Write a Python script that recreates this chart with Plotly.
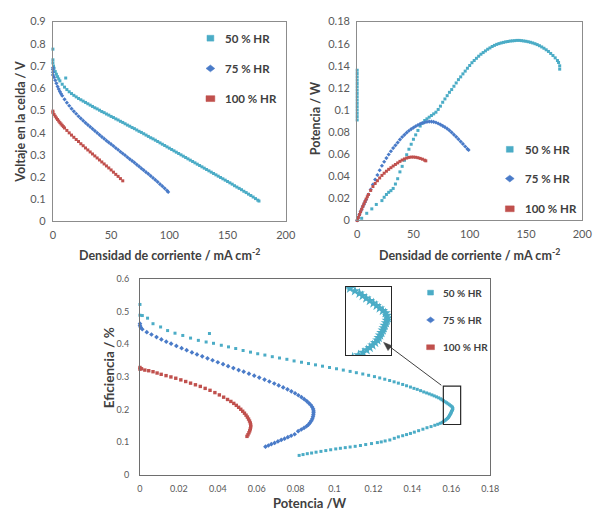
import plotly.graph_objects as go

# ---------------------------------------------------------------------------
# Data
# ---------------------------------------------------------------------------
# Voltage vs current density (mA cm-2)
cd_50_v = [0, 0, 0, 0.5, 1, 2, 3, 4, 5, 6, 8, 10, 11, 12,
           14, 16, 18, 20, 22, 24, 26, 28, 30, 32, 34, 36, 38, 40, 42, 44, 46, 48,
           50, 52, 54, 56, 58, 60, 62, 64, 66, 68, 70, 72, 74, 76, 78, 80, 82, 84,
           86, 88, 90, 92, 94, 96, 98, 100, 102, 104, 106, 108, 110, 112, 114, 116,
           118, 120, 122, 124, 126, 128, 130, 132, 134, 136, 138, 140, 142, 144,
           146, 148, 150, 152, 154, 156, 158, 160, 162, 164, 166, 168, 170, 172,
           174, 176, 177]
volt_50 = [0.776, 0.728, 0.714, 0.700, 0.690, 0.675, 0.663, 0.652, 0.642, 0.633, 0.618,
           0.605, 0.646, 0.594,
           0.584, 0.576, 0.568, 0.561, 0.554, 0.548, 0.542, 0.536, 0.530, 0.524, 0.518,
           0.512, 0.507, 0.501, 0.495, 0.490, 0.484, 0.479, 0.473, 0.468, 0.462, 0.457,
           0.451, 0.446, 0.440, 0.434, 0.429, 0.423, 0.418, 0.412, 0.406, 0.401, 0.395,
           0.389, 0.383, 0.377, 0.372, 0.366, 0.360, 0.354, 0.348, 0.342, 0.336, 0.330,
           0.324, 0.318, 0.312, 0.306, 0.300, 0.294, 0.288, 0.282, 0.276, 0.270, 0.264,
           0.258, 0.252, 0.246, 0.240, 0.234, 0.228, 0.222, 0.216, 0.210, 0.204, 0.198,
           0.192, 0.186, 0.180, 0.174, 0.168, 0.161, 0.155, 0.149, 0.143, 0.136, 0.130,
           0.123, 0.117, 0.110, 0.103, 0.096, 0.092]

cd_75_v = [0, 0, 0, 0, 1, 2, 3, 4, 5, 6, 7, 8,
           10, 12, 14, 16, 18, 20, 22, 24, 26, 28, 30, 32, 34, 36, 38, 40, 42, 44, 46,
           48, 50, 52, 54, 56, 58, 60, 62, 64, 66, 68, 70, 72, 74, 76, 78, 80, 82, 84,
           86, 88, 90, 92, 94, 96, 98, 99]
volt_75 = [0.692, 0.684, 0.672, 0.660, 0.650, 0.636, 0.622, 0.608, 0.596, 0.585, 0.575, 0.566,
           0.550, 0.535, 0.521, 0.508, 0.496, 0.485, 0.474, 0.464, 0.454, 0.444, 0.435,
           0.426, 0.417, 0.408, 0.399, 0.390, 0.381, 0.373, 0.364, 0.356, 0.348, 0.340,
           0.331, 0.323, 0.314, 0.306, 0.298, 0.289, 0.281, 0.273, 0.265, 0.256, 0.248,
           0.239, 0.231, 0.222, 0.214, 0.205, 0.196, 0.187, 0.178, 0.168, 0.159, 0.149,
           0.139, 0.133]

cd_100_v = [0, 0, 1, 2, 3, 4, 5, 6, 7, 8, 9, 10,
            12, 14, 16, 18, 20, 22, 24, 26, 28, 30, 32, 34, 36, 38, 40, 42, 44, 46, 48,
            50, 52, 54, 56, 58, 60]
volt_100 = [0.497, 0.490, 0.482, 0.474, 0.466, 0.459, 0.452, 0.445, 0.439, 0.433, 0.427, 0.421,
            0.410, 0.399, 0.389, 0.379, 0.369, 0.360, 0.350, 0.341, 0.331, 0.322, 0.313,
            0.304, 0.295, 0.286, 0.277, 0.268, 0.259, 0.250, 0.241, 0.232, 0.222, 0.212,
            0.203, 0.193, 0.183]

# Power (W) vs current density (mA cm-2)
cd_50_p = [0, 0, 0, 0, 0, 0, 0, 0, 0, 0, 0, 0, 0, 0, 0, 0,
           0.5, 4, 8.5, 13, 17,
           22, 24, 26, 28, 30, 32, 34, 36, 38, 40, 42, 44, 46, 48, 50, 52, 54, 56, 58,
           60, 62, 64, 66, 68, 70, 72, 74, 76, 78, 80, 82, 84, 86, 88, 90, 92, 94, 96,
           98, 100, 102, 104, 106, 108, 110, 112, 114, 116, 118, 120, 122, 124, 126,
           128, 130, 132, 134, 136, 138, 140, 142, 144, 146, 148, 150, 152, 154, 156,
           158, 160, 162, 164, 166, 168, 170, 172, 174, 176, 178, 179, 180, 180]
pow_50 = [0.136, 0.133, 0.130, 0.127, 0.124, 0.121, 0.118, 0.115, 0.112, 0.109, 0.106,
          0.103, 0.100, 0.097, 0.094, 0.091,
          0.0005, 0.002, 0.0065, 0.0105, 0.0145,
          0.018, 0.021, 0.0235, 0.0255, 0.027, 0.029, 0.033, 0.0378, 0.044, 0.049, 0.0545,
          0.0595, 0.0645, 0.069, 0.0735, 0.0775, 0.0815, 0.0855, 0.088, 0.0905, 0.092,
          0.0935, 0.095, 0.0965, 0.098, 0.1005, 0.1035, 0.107, 0.110, 0.113, 0.116,
          0.1185, 0.1215, 0.1245, 0.1275, 0.130, 0.1327, 0.1352, 0.1378, 0.1403, 0.1428,
          0.1448, 0.1468, 0.1487, 0.1505, 0.152, 0.1535, 0.155, 0.1562, 0.1575, 0.1585,
          0.1594, 0.1601, 0.1607, 0.1612, 0.1617, 0.162, 0.1624, 0.1626, 0.1628, 0.163,
          0.163, 0.1628, 0.1625, 0.1622, 0.1618, 0.1613, 0.1607, 0.160, 0.1592, 0.1582,
          0.1571, 0.1559, 0.1545, 0.153, 0.1512, 0.1493, 0.1472, 0.1448, 0.143, 0.140, 0.137]

cd_75_p = [0, 1, 2, 3, 4, 5, 6, 7, 8,
           10, 12, 14, 16, 18, 20, 22, 24, 26, 28, 30, 32, 34, 36, 38, 40, 42, 44, 46,
           48, 50, 52, 54, 56, 58, 60, 62, 64, 66, 68, 70, 72, 74, 76, 78, 80, 82, 84,
           86, 88, 90, 92, 94, 96, 98, 99]
pow_75 = [0.0, 0.003, 0.0055, 0.008, 0.0102, 0.0125, 0.0147, 0.0168, 0.019,
          0.0235, 0.028, 0.0325, 0.037, 0.0412, 0.0455, 0.0495, 0.0532, 0.0565, 0.0597,
          0.0627, 0.0655, 0.068, 0.0705, 0.0732, 0.0756, 0.0775, 0.0795, 0.0812, 0.0827,
          0.084, 0.0853, 0.0864, 0.0874, 0.0882, 0.0888, 0.0893, 0.0895, 0.0895, 0.0892,
          0.0887, 0.0878, 0.0868, 0.0857, 0.0845, 0.0831, 0.0815, 0.0797, 0.0777, 0.0757,
          0.0736, 0.0714, 0.0693, 0.067, 0.0648, 0.0638]

cd_100_p = [0, 1, 2, 3, 4, 5, 6, 7, 8, 9, 10,
            12, 14, 16, 18, 20, 22, 24, 26, 28, 30, 32, 34, 36, 38, 40, 42, 44, 46, 48,
            50, 52, 54, 56, 58, 60, 61]
pow_100 = [0.0, 0.0027, 0.0053, 0.0078, 0.0102, 0.0127, 0.015, 0.0172, 0.0194, 0.0215, 0.0235,
           0.0272, 0.0307, 0.0335, 0.036, 0.0385, 0.0408, 0.0428, 0.0446, 0.0463, 0.0478,
           0.0493, 0.0507, 0.0521, 0.0535, 0.0547, 0.0557, 0.0565, 0.0571, 0.0574, 0.0574,
           0.0572, 0.0568, 0.0562, 0.0555, 0.0546, 0.054]

# Efficiency (fraction) vs power (W)
pe_50 = [0.0, 0.0, 0.0012, 0.0039, 0.0067, 0.0106, 0.0142, 0.0180, 0.0220, 0.0260, 0.0300,
         0.0357, 0.0340, 0.0378, 0.0418, 0.0455, 0.0492, 0.0530, 0.0568, 0.0605, 0.0642,
         0.0680, 0.0717, 0.0755, 0.0792, 0.0830, 0.0866, 0.0902, 0.0938, 0.0974, 0.1010,
         0.1045, 0.1080, 0.1112, 0.1145, 0.1175, 0.1205, 0.1232, 0.1258, 0.1283, 0.1306,
         0.1328, 0.1350, 0.1370, 0.1390, 0.1408, 0.1425, 0.1442, 0.1458, 0.1473, 0.1487,
         0.1500, 0.1512, 0.1524, 0.1535, 0.1545, 0.1552, 0.1560, 0.1568, 0.1576, 0.1583,
         0.1590, 0.1597, 0.1603, 0.1606, 0.1608, 0.1606, 0.1604, 0.1601, 0.1599, 0.1597,
         0.1594, 0.1591, 0.1588, 0.1585, 0.1580, 0.1574, 0.1568, 0.1561, 0.1553, 0.1543,
         0.1530, 0.1515, 0.1496, 0.1475, 0.1454, 0.1432, 0.1410, 0.1390, 0.1370, 0.1350,
         0.1328, 0.1307, 0.1284, 0.1260, 0.1240, 0.1220, 0.1190, 0.1160, 0.1133, 0.1106,
         0.1080, 0.1055, 0.1030, 0.1006, 0.0980, 0.0955, 0.0930, 0.0905, 0.0882, 0.0860,
         0.0838, 0.0818]
eff_50 = [0.522, 0.489, 0.488, 0.480, 0.463, 0.453, 0.442, 0.434, 0.427, 0.419, 0.412,
          0.433, 0.407, 0.403, 0.397, 0.392, 0.387, 0.381, 0.376, 0.371, 0.367,
          0.362, 0.358, 0.354, 0.349, 0.345, 0.341, 0.337, 0.333, 0.329, 0.325,
          0.321, 0.317, 0.313, 0.309, 0.305, 0.301, 0.297, 0.293, 0.289, 0.285,
          0.281, 0.277, 0.273, 0.269, 0.265, 0.262, 0.258, 0.254, 0.251, 0.248,
          0.245, 0.242, 0.239, 0.236, 0.233, 0.230, 0.227, 0.224, 0.221, 0.218,
          0.215, 0.212, 0.209, 0.206, 0.203, 0.200, 0.197, 0.194, 0.191, 0.188,
          0.185, 0.182, 0.179, 0.176, 0.173, 0.170, 0.167, 0.164, 0.161, 0.158,
          0.155, 0.152, 0.148, 0.1445, 0.140, 0.1355, 0.131, 0.127, 0.1235, 0.120,
          0.1165, 0.112, 0.107, 0.104, 0.101, 0.099, 0.096, 0.093, 0.090, 0.0875,
          0.0855, 0.0835, 0.0815, 0.0796, 0.077, 0.0745, 0.072, 0.0696, 0.067, 0.065,
          0.0623, 0.0597]

pe_75 = [0.0, 0.0, 0.0004, 0.0012, 0.0035, 0.0059, 0.0085, 0.0110, 0.0135, 0.0160, 0.0187,
         0.0214, 0.0240, 0.0267, 0.0293, 0.0320, 0.0347, 0.0373, 0.0400, 0.0427, 0.0453,
         0.0480, 0.0507, 0.0533, 0.0560, 0.0587, 0.0613, 0.0640, 0.0665, 0.0690, 0.0713,
         0.0736, 0.0758, 0.0778, 0.0797, 0.0814, 0.0830, 0.0844, 0.0857, 0.0868, 0.0878,
         0.0885, 0.0890, 0.0892, 0.0892, 0.0891, 0.0889, 0.0886, 0.0881, 0.0874, 0.0866,
         0.0856, 0.0843, 0.0829, 0.0813, 0.0795, 0.0777, 0.0760, 0.0743, 0.0726, 0.0709,
         0.0692, 0.0675, 0.0660, 0.0645]
eff_75 = [0.463, 0.457, 0.452, 0.446, 0.437, 0.430, 0.422, 0.415, 0.408, 0.402, 0.395,
          0.388, 0.382, 0.375, 0.369, 0.363, 0.357, 0.351, 0.345, 0.339, 0.333,
          0.327, 0.321, 0.316, 0.310, 0.304, 0.298, 0.292, 0.286, 0.280, 0.274,
          0.268, 0.262, 0.256, 0.250, 0.244, 0.238, 0.232, 0.226, 0.220, 0.214,
          0.208, 0.202, 0.196, 0.190, 0.184, 0.178, 0.172, 0.166, 0.160, 0.154,
          0.149, 0.144, 0.139, 0.134, 0.1245, 0.120, 0.1155, 0.111, 0.107, 0.1025,
          0.098, 0.094, 0.090, 0.0866]

pe_100 = [0.0, 0.0, 0.0008, 0.0025, 0.0045, 0.0067, 0.0088, 0.0109, 0.0134, 0.0159, 0.0184,
          0.0210, 0.0235, 0.0260, 0.0285, 0.0310, 0.0335, 0.0360, 0.0385, 0.0408, 0.0430,
          0.0450, 0.0467, 0.0482, 0.0495, 0.0507, 0.0518, 0.0528, 0.0537, 0.0545, 0.0552,
          0.0558, 0.0563, 0.0567, 0.0569, 0.0569, 0.0567, 0.0564, 0.0560, 0.0555, 0.0550]
eff_100 = [0.329, 0.324, 0.325, 0.321, 0.319, 0.316, 0.312, 0.308, 0.304, 0.300, 0.296,
           0.291, 0.286, 0.281, 0.276, 0.271, 0.265, 0.259, 0.252, 0.245, 0.238,
           0.231, 0.225, 0.219, 0.213, 0.207, 0.201, 0.195, 0.189, 0.183, 0.177,
           0.171, 0.165, 0.159, 0.153, 0.147, 0.141, 0.135, 0.129, 0.123, 0.118]

series_names = ["50 % HR", "75 % HR", "100 % HR"]
colors = ["#4BACC6", "#4A7BC8", "#C0504D"]
symbols = ["square", "diamond", "square"]

x_ticks_cd = [0, 50, 100, 150, 200]

# ---------------------------------------------------------------------------
# Geometry helpers (figure pixels -> paper fraction)
# ---------------------------------------------------------------------------
W, H = 601, 516
FONT = "Lato"
TITLE_C = "#404040"
TICK_C = "#595959"


def fx(px):
    return px / W


def fy(py):
    return 1 - py / H


fig = go.Figure()


def add_series(xs, ys, idx, xa, ya, size):
    fig.add_trace(go.Scatter(
        x=xs, y=ys, mode="markers", name=series_names[idx], showlegend=False,
        xaxis=xa, yaxis=ya, cliponaxis=False,
        marker=dict(symbol=symbols[idx], size=size, color=colors[idx], line=dict(width=0)),
    ))


# Voltage panel
add_series(cd_50_v, volt_50, 0, "x", "y", 3)
add_series(cd_75_v, volt_75, 1, "x", "y", 3.2)
add_series(cd_100_v, volt_100, 2, "x", "y", 3)
# Power panel
add_series(cd_50_p, pow_50, 0, "x2", "y2", 3)
add_series(cd_75_p, pow_75, 1, "x2", "y2", 3.2)
add_series(cd_100_p, pow_100, 2, "x2", "y2", 3)
# Efficiency panel
add_series(pe_50, eff_50, 0, "x3", "y3", 3)
add_series(pe_75, eff_75, 1, "x3", "y3", 3.6)
add_series(pe_100, eff_100, 2, "x3", "y3", 3.4)

# Magnified view of the 50 % HR turning point
fig.add_trace(go.Scatter(
    x=pe_50, y=eff_50, mode="markers", showlegend=False, xaxis="x4", yaxis="y4",
    cliponaxis=True,
    marker=dict(symbol="star", size=8, color=colors[0], line=dict(width=0)),
))

axis_common = dict(showgrid=False, zeroline=False, showline=True, mirror=True,
                   ticks="", linewidth=1)


def tickfont(sz):
    return dict(family=FONT, size=sz, color=TICK_C)


fig.update_layout(
    width=W, height=H, margin=dict(l=0, r=0, t=0, b=0),
    paper_bgcolor="white", plot_bgcolor="white", showlegend=False,
    xaxis=dict(domain=[fx(51), fx(289)], range=[0, 200], tickvals=x_ticks_cd, anchor="y",
               linecolor="#8c8c8c", tickfont=tickfont(11), ticklabelstandoff=3, **axis_common),
    yaxis=dict(domain=[fy(220), fy(15)], range=[0, 0.9], dtick=0.1, anchor="x",
               linecolor="#8c8c8c", tickfont=tickfont(11), ticklabelstandoff=4, **axis_common),
    xaxis2=dict(domain=[fx(362), fx(592)], range=[0, 200], tickvals=x_ticks_cd, anchor="y2",
                linecolor="#8c8c8c", tickfont=tickfont(11), ticklabelstandoff=3, **axis_common),
    yaxis2=dict(domain=[fy(219), fy(15)], range=[0, 0.18], dtick=0.02, anchor="x2",
                linecolor="#8c8c8c", tickfont=tickfont(11), ticklabelstandoff=4, **axis_common),
    xaxis3=dict(domain=[fx(140), fx(498)], range=[0, 0.18], dtick=0.02, anchor="y3",
                linecolor="#6e6e6e", tickfont=tickfont(9), ticklabelstandoff=5, **axis_common),
    yaxis3=dict(domain=[fy(480), fy(279)], range=[0, 0.6], dtick=0.1, anchor="x3",
                linecolor="#6e6e6e", tickfont=tickfont(9), ticklabelstandoff=8, **axis_common),
    xaxis4=dict(domain=[fx(351), fx(397)], range=[0.1516, 0.1616], anchor="y4",
                showticklabels=False, linecolor="#262626", **axis_common),
    yaxis4=dict(domain=[fy(357), fy(287)], range=[0.158, 0.241], anchor="x4",
                showticklabels=False, linecolor="#262626", **axis_common),
)

annotations = []


def label(text, px, py, size, angle=0, anchor="center", color=TITLE_C):
    annotations.append(dict(
        text=text, x=fx(px), y=fy(py), xref="paper", yref="paper", showarrow=False,
        xanchor=anchor, yanchor="middle", textangle=angle,
        font=dict(family=FONT, size=size, color=color),
    ))


# Axis titles
label("<b>Voltaje en la celda / V</b>", 17, 118, 12.5, angle=-90)
label("<b>Densidad de corriente / mA cm<sup>-2</sup></b>", 170, 254, 12.5)
label("<b>Potencia / W</b>", 319, 114, 12.5, angle=-90)
label("<b>Densidad de corriente / mA cm<sup>-2</sup></b>", 477, 254, 12.5)
label("<b>Eficiencia / %</b>", 108, 370, 13.5, angle=-90)
label("<b>Potencia /W</b>", 314, 508.5, 13)

shapes = []


def legend_key(idx, cx, cy, w, h):
    col = colors[idx]
    if symbols[idx] == "diamond":
        path = (f"M {fx(cx - w / 2)} {fy(cy)} L {fx(cx)} {fy(cy - h / 2)} "
                f"L {fx(cx + w / 2)} {fy(cy)} L {fx(cx)} {fy(cy + h / 2)} Z")
        shapes.append(dict(type="path", path=path, xref="paper", yref="paper",
                           fillcolor=col, line=dict(color=col, width=0.5)))
    else:
        shapes.append(dict(type="rect", xref="paper", yref="paper",
                           x0=fx(cx - w / 2), x1=fx(cx + w / 2),
                           y0=fy(cy + h / 2), y1=fy(cy - h / 2),
                           fillcolor=col, line=dict(color=col, width=0.5)))


# Legends (one per panel)
legend_layout = [
    (212, 225, [32, 63, 94], 11.5, [(7, 6), (9, 7), (9, 6)]),
    (518, 532, [146, 176, 207], 11.5, [(7, 6), (9, 7), (9, 6)]),
    (437, 448, [293, 321, 349], 10, [(6, 5), (8, 6), (8, 5)]),
]
for key_x, text_x, ys, fsize, sizes in legend_layout:
    for i in range(3):
        legend_key(i, key_x, ys[i], *sizes[i])
        label(f"<b>{series_names[i]}</b>", text_x, ys[i], fsize, anchor="left")

# Box marking the magnified region on the efficiency panel
shapes.append(dict(type="rect", xref="x3", yref="y3", x0=0.1559, x1=0.1648,
                   y0=0.1543, y1=0.2716, line=dict(color="#262626", width=1.2)))

# Arrow from the marked region to the magnified view
shapes.append(dict(type="line", xref="paper", yref="paper",
                   x0=fx(448), y0=fy(388), x1=fx(392), y1=fy(346),
                   line=dict(color="#404040", width=1)))
shapes.append(dict(type="path", xref="paper", yref="paper",
                   path=(f"M {fx(389)} {fy(344)} L {fx(397.5)} {fy(347.5)} "
                         f"L {fx(393.5)} {fy(352.5)} Z"),
                   fillcolor="#404040", line=dict(color="#404040", width=0.5)))

fig.update_layout(annotations=annotations, shapes=shapes)

fig.write_html("out.html")
